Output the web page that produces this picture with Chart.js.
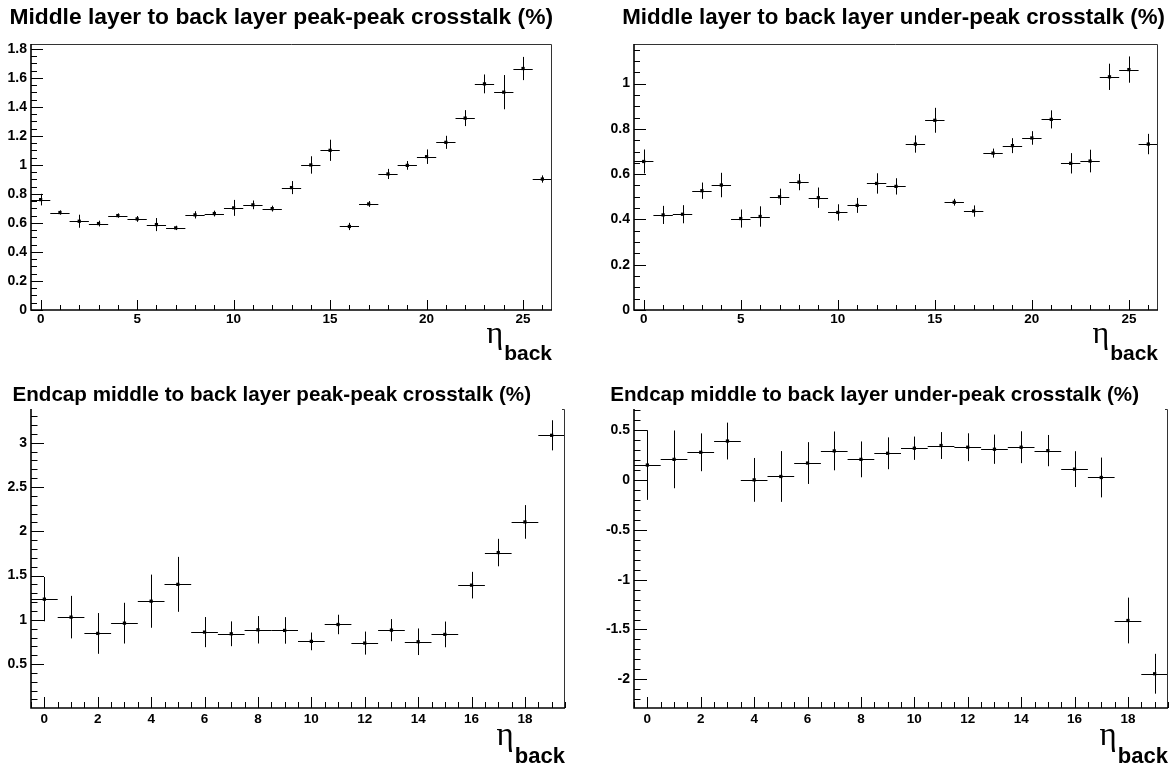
<!DOCTYPE html>
<html>
<head>
<meta charset="utf-8">
<script src="https://cdn.jsdelivr.net/npm/chart.js@4.4.0/dist/chart.umd.min.js"></script>
<style>
html, body { margin: 0; padding: 0; background: #fff; }
#wrap { position: relative; width: 1176px; height: 771px; }
.pad { position: absolute; }
</style>
</head>
<body>
<div id="wrap">
  <div class="pad" style="left:0;top:0;width:588px;height:380px"><canvas id="c1"></canvas></div>
  <div class="pad" style="left:588px;top:0;width:588px;height:380px"><canvas id="c2"></canvas></div>
  <div class="pad" style="left:0;top:380px;width:588px;height:391px"><canvas id="c3"></canvas></div>
  <div class="pad" style="left:588px;top:380px;width:588px;height:391px"><canvas id="c4"></canvas></div>
</div>
<script>
// eta_back bins
const etaBarrel = [0,1,2,3,4,5,6,7,8,9,10,11,12,13,14,15,16,17,18,19,20,21,22,23,24,25,26];
const etaEndcap = [0,1,2,3,4,5,6,7,8,9,10,11,12,13,14,15,16,17,18,19];

// crosstalk (%) and errors
const peakBarrel = [0.761,0.672,0.612,0.596,0.651,0.628,0.589,0.566,0.656,0.665,0.704,0.725,0.699,0.844,1.0,1.101,0.576,0.731,0.938,0.997,1.057,1.156,1.323,1.559,1.502,1.665,0.903];
const peakBarrelErr = [0.04,0.015,0.045,0.02,0.015,0.02,0.045,0.015,0.025,0.02,0.055,0.03,0.02,0.045,0.06,0.073,0.025,0.02,0.035,0.03,0.05,0.045,0.055,0.065,0.118,0.08,0.025];
const underBarrel = [0.656,0.42,0.423,0.527,0.552,0.404,0.413,0.5,0.565,0.496,0.431,0.462,0.559,0.546,0.733,0.838,0.476,0.437,0.693,0.726,0.76,0.842,0.648,0.658,1.03,1.062,0.733];
const underBarrelErr = [0.053,0.04,0.04,0.036,0.054,0.04,0.045,0.036,0.036,0.045,0.036,0.033,0.045,0.036,0.038,0.055,0.015,0.025,0.02,0.033,0.03,0.04,0.045,0.05,0.058,0.058,0.045];
const peakEndcap = [1.233,1.03,0.846,0.962,1.21,1.40,0.861,0.842,0.887,0.88,0.756,0.947,0.737,0.883,0.752,0.835,1.391,1.759,2.105,3.083];
const peakEndcapErr = [0.25,0.24,0.23,0.23,0.3,0.31,0.17,0.14,0.155,0.15,0.1,0.11,0.13,0.125,0.15,0.145,0.15,0.155,0.19,0.17];
const underEndcap = [0.152,0.209,0.28,0.393,0.003,0.037,0.172,0.294,0.209,0.27,0.321,0.348,0.331,0.311,0.331,0.297,0.111,0.027,-1.41,-1.945];
const underEndcapErr = [0.35,0.29,0.19,0.185,0.22,0.255,0.21,0.195,0.18,0.16,0.117,0.135,0.14,0.147,0.16,0.157,0.18,0.2,0.23,0.2];

// tick labels
const xTicksBarrel = [0,5,10,15,20,25];
const xTicksEndcap = [0,2,4,6,8,10,12,14,16,18];
const yTicksPeakBarrel = [0,0.2,0.4,0.6,0.8,1,1.2,1.4,1.6,1.8];
const yTicksUnderBarrel = [0,0.2,0.4,0.6,0.8,1];
const yTicksPeakEndcap = [0.5,1,1.5,2,2.5,3];
const yTicksUnderEndcap = [-2,-1.5,-1,-0.5,0,0.5];

const FONT = "'Liberation Sans', Arial, Helvetica, sans-serif";

function minorValues(min, max, step) {
  const out = [];
  for (let k = Math.ceil(min / step - 1e-9); k * step <= max + 1e-9; k++) out.push(k * step);
  return out;
}

const rootStyle = {
  id: 'rootStyle',
  beforeDatasetsDraw(chart, args, o) {
    const { ctx, chartArea: a, scales: { x, y } } = chart;
    ctx.save();
    ctx.beginPath();
    ctx.rect(a.left, a.top, a.right - a.left, a.bottom - a.top);
    ctx.clip();
    ctx.strokeStyle = '#000';
    ctx.lineWidth = 1;
    chart.data.datasets[0].data.forEach(p => {
      const px = Math.round(x.getPixelForValue(p.x)) + 0.5;
      const py = Math.round(y.getPixelForValue(p.y)) + 0.5;
      ctx.beginPath();
      ctx.moveTo(x.getPixelForValue(p.x - 0.5), py);
      ctx.lineTo(x.getPixelForValue(p.x + 0.5), py);
      ctx.moveTo(px, y.getPixelForValue(p.y - p.err));
      ctx.lineTo(px, y.getPixelForValue(p.y + p.err));
      ctx.stroke();
    });
    ctx.restore();
  },
  afterDraw(chart, args, o) {
    const { ctx, chartArea: a, scales: { x, y } } = chart;
    ctx.save();
    // frame
    ctx.strokeStyle = '#333';
    ctx.lineWidth = 1;
    ctx.beginPath();
    if (o.openTop) {
      ctx.moveTo(a.right - 3, a.top + 0.5);
      ctx.lineTo(a.right - 0.5, a.top + 0.5);
      ctx.lineTo(a.right - 0.5, a.bottom);
    } else {
      ctx.moveTo(a.left, a.top + 0.5);
      ctx.lineTo(a.right - 0.5, a.top + 0.5);
      ctx.lineTo(a.right - 0.5, a.bottom);
    }
    ctx.stroke();
    // axes
    ctx.strokeStyle = '#000';
    ctx.lineWidth = 1.6;
    ctx.beginPath();
    ctx.moveTo(a.left, a.top);
    ctx.lineTo(a.left, a.bottom);
    ctx.lineTo(a.right, a.bottom);
    ctx.stroke();
    // tick marks, pointing into the frame
    ctx.lineWidth = 1;
    ctx.beginPath();
    minorValues(y.min, y.max, o.yMinor).forEach(v => {
      const py = Math.round(y.getPixelForValue(v)) + 0.5;
      ctx.moveTo(a.left, py); ctx.lineTo(a.left + o.yMinorLen, py);
    });
    o.yMajor.forEach(v => {
      const py = Math.round(y.getPixelForValue(v)) + 0.5;
      ctx.moveTo(a.left, py); ctx.lineTo(a.left + o.yMajorLen, py);
    });
    minorValues(x.min, x.max, o.xMinor).forEach(v => {
      const px = Math.round(x.getPixelForValue(v)) + 0.5;
      ctx.moveTo(px, a.bottom); ctx.lineTo(px, a.bottom - o.xMinorLen);
    });
    o.xMajor.forEach(v => {
      const px = Math.round(x.getPixelForValue(v)) + 0.5;
      ctx.moveTo(px, a.bottom); ctx.lineTo(px, a.bottom - o.xMajorLen);
    });
    ctx.stroke();
    // title (anchored by its right end)
    ctx.fillStyle = '#000';
    ctx.textAlign = 'right';
    ctx.textBaseline = 'alphabetic';
    ctx.font = 'bold ' + o.titleSize + 'px ' + FONT;
    ctx.fillText(o.title, o.titleEnd, o.titleY);
    // eta_back axis title
    ctx.font = 'bold ' + o.backSize + 'px ' + FONT;
    ctx.fillText('back', a.right, a.bottom + o.backDy);
    const bw = ctx.measureText('back').width;
    ctx.font = o.etaSize + "px 'Liberation Serif', 'DejaVu Serif', serif";
    ctx.fillText('η', a.right - bw - 1, a.bottom + o.etaDy);
    ctx.restore();
  }
};

function makeChart(id, cfg) {
  const data = cfg.eta.map((e, i) => ({ x: e, y: cfg.values[i], err: cfg.errors[i] }));
  return new Chart(document.getElementById(id), {
    type: 'scatter',
    data: {
      datasets: [{
        data: data,
        pointStyle: 'rect',
        pointRadius: 2.3,
        pointBackgroundColor: '#000',
        pointBorderWidth: 0,
        showLine: false
      }]
    },
    plugins: [rootStyle],
    options: {
      responsive: true,
      maintainAspectRatio: false,
      animation: false,
      events: [],
      layout: { padding: cfg.padding },
      plugins: {
        legend: { display: false },
        tooltip: { enabled: false },
        title: { display: false },
        rootStyle: cfg.style
      },
      scales: {
        x: {
          type: 'linear',
          min: cfg.xMin, max: cfg.xMax,
          grid: { display: false, drawTicks: false },
          border: { display: false },
          afterBuildTicks: s => { s.ticks = cfg.style.xMajor.map(v => ({ value: v })); },
          afterFit: s => { s.height = cfg.xHeight; },
          ticks: {
            autoSkip: false, maxRotation: 0, padding: cfg.xPad, color: '#000',
            font: { family: FONT, size: 13.5, weight: 'bold' },
            callback: v => String(v)
          }
        },
        y: {
          type: 'linear',
          min: cfg.yMin, max: cfg.yMax,
          grid: { display: false, drawTicks: false },
          border: { display: false },
          afterBuildTicks: s => { s.ticks = cfg.style.yMajor.map(v => ({ value: v })); },
          afterFit: s => { s.width = cfg.yWidth; },
          ticks: {
            autoSkip: false, padding: 4, color: '#000',
            font: { family: FONT, size: 14, weight: 'bold' },
            callback: v => String(v)
          }
        }
      }
    }
  });
}

const topStyle = { yMajorLen: 12, yMinorLen: 6, xMajorLen: 10, xMinorLen: 5, titleY: 24, backSize: 21, backDy: 50, etaSize: 32, etaDy: 33, openTop: false };
const botStyle = { yMajorLen: 13, yMinorLen: 6.5, xMajorLen: 11, xMinorLen: 6, titleSize: 20.6, titleY: 21, backSize: 22, backDy: 55, etaSize: 33, etaDy: 37, openTop: true };

makeChart('c1', {
  eta: etaBarrel, values: peakBarrel, errors: peakBarrelErr,
  xMin: -0.5, xMax: 26.5, yMin: 0, yMax: 1.834,
  padding: { top: 44, right: 36, left: 0, bottom: 0 }, yWidth: 31, xHeight: 70, xPad: 1,
  style: Object.assign({}, topStyle, { title: 'Middle layer to back layer peak-peak crosstalk (%)', titleSize: 22.8, titleEnd: 553,
    xMajor: xTicksBarrel, xMinor: 1, yMajor: yTicksPeakBarrel, yMinor: 0.05 })
});
makeChart('c2', {
  eta: etaBarrel, values: underBarrel, errors: underBarrelErr,
  xMin: -0.5, xMax: 26.5, yMin: 0, yMax: 1.175,
  padding: { top: 44, right: 18, left: 0, bottom: 0 }, yWidth: 46, xHeight: 70, xPad: 1,
  style: Object.assign({}, topStyle, { title: 'Middle layer to back layer under-peak crosstalk (%)', titleSize: 22.3, titleEnd: 577,
    xMajor: xTicksBarrel, xMinor: 1, yMajor: yTicksUnderBarrel, yMinor: 0.05 })
});
makeChart('c3', {
  eta: etaEndcap, values: peakEndcap, errors: peakEndcapErr,
  xMin: -0.5, xMax: 19.5, yMin: 0.004, yMax: 3.38,
  padding: { top: 29, right: 23, left: 0, bottom: 0 }, yWidth: 31, xHeight: 63, xPad: 3,
  style: Object.assign({}, botStyle, { title: 'Endcap middle to back layer peak-peak crosstalk (%)', titleEnd: 531,
    xMajor: xTicksEndcap, xMinor: 0.5, yMajor: yTicksPeakEndcap, yMinor: 0.1 })
});
makeChart('c4', {
  eta: etaEndcap, values: underEndcap, errors: underEndcapErr,
  xMin: -0.5, xMax: 19.5, yMin: -2.289, yMax: 0.715,
  padding: { top: 29, right: 8, left: 0, bottom: 0 }, yWidth: 46, xHeight: 63, xPad: 3,
  style: Object.assign({}, botStyle, { title: 'Endcap middle to back layer under-peak crosstalk (%)', titleEnd: 551,
    xMajor: xTicksEndcap, xMinor: 0.5, yMajor: yTicksUnderEndcap, yMinor: 0.1 })
});
</script>
</body>
</html>
